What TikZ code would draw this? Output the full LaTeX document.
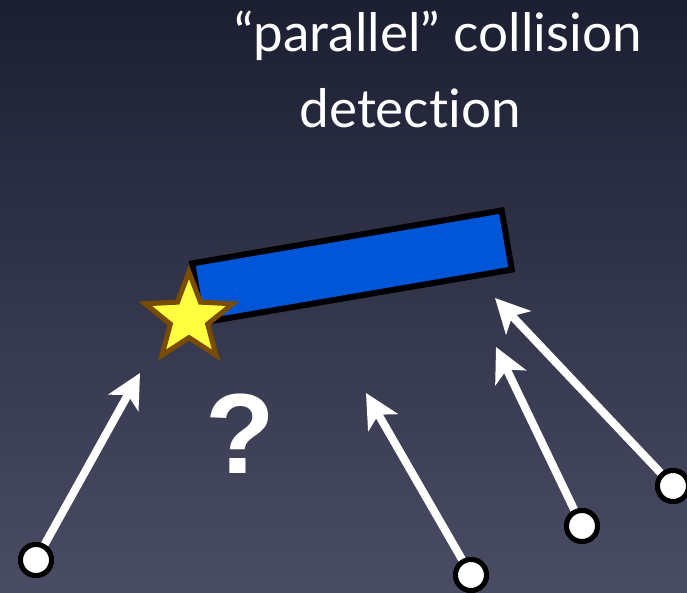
\documentclass[tikz,border=0pt]{standalone}
\usepackage{fontspec}
\setmainfont[Ligatures={NoCommon,NoContextual}]{Lato}
\newfontfamily\qfont{Liberation Sans}
\usetikzlibrary{shapes.geometric,arrows.meta}
\definecolor{bgtop}{RGB}{28,30,50}
\definecolor{bgbot}{RGB}{74,76,100}
\definecolor{barblue}{RGB}{0,86,214}
\definecolor{staryellow}{RGB}{255,255,64}
\definecolor{starbrown}{RGB}{122,76,0}
\tikzset{
  titletext/.style={text=white,anchor=base,inner sep=0pt,font=\fontsize{53}{53}\selectfont},
  endpoint/.style={circle,draw=black,fill=white,line width=5pt,minimum size=31pt,inner sep=0pt},
  ray/.style={draw=white,line width=8pt,-{Stealth[length=34pt,width=34pt,inset=9pt]}},
  body/.style={draw=black,fill=barblue,line width=6pt,minimum width=314pt,minimum height=60pt,inner sep=0pt,rotate=9.7},
  marker/.style={star,star points=5,star point ratio=2.35,draw=starbrown,fill=staryellow,line width=5pt,minimum size=92pt,inner sep=0pt}
}
\begin{document}
\begin{tikzpicture}[x=1pt,y=-1pt]
  % background
  \shade[top color=bgtop,bottom color=bgbot] (0,0) rectangle (687,593);
  \useasboundingbox (0,0) rectangle (687,593);

  % title
  \node[titletext] (t1) at (438,52) {“parallel” collision};
  \node[titletext] (t2) at (410,128) {detection};

  % falling bar and the star at its corner
  \node[body] (bar) at (352,266.5) {};
  \node[marker] (st) at (189,318) {};

  % question mark
  \node[text=white,inner sep=0pt,font=\qfont\bfseries\fontsize{114}{114}\selectfont] (q) at (240,434) {?};

  % sample points with their rays
  \node[endpoint] (p1) at (36,560) {};
  \node[endpoint] (p2) at (471,575) {};
  \node[endpoint] (p3) at (582,526) {};
  \node[endpoint] (p4) at (673,486) {};
  \coordinate (h1) at (140,373);
  \coordinate (h2) at (366,393);
  \coordinate (h3) at (496,347);
  \coordinate (h4) at (495,298);
  \draw[ray] (p1) -- (h1);
  \draw[ray] (p2) -- (h2);
  \draw[ray] (p3) -- (h3);
  \draw[ray] (p4) -- (h4);
  \node[endpoint] at (p1) {};
  \node[endpoint] at (p2) {};
  \node[endpoint] at (p3) {};
  \node[endpoint] at (p4) {};
\end{tikzpicture}
\end{document}
